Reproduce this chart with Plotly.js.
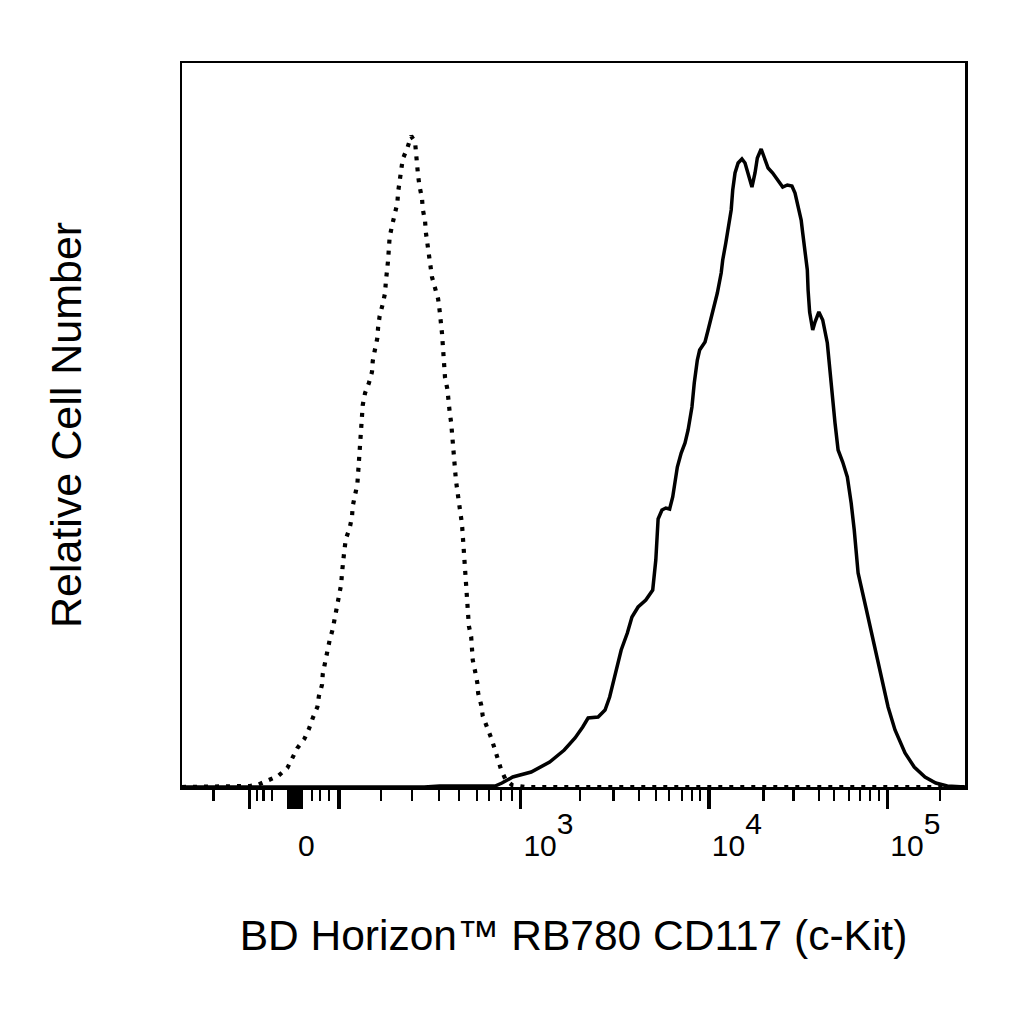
<!DOCTYPE html>
<html>
<head>
<meta charset="utf-8">
<script src="https://cdn.plot.ly/plotly-3.0.1.min.js"></script>
<style>
  html, body { margin: 0; padding: 0; background: #fff; }
  #chart { width: 1024px; height: 1024px; }
</style>
</head>
<body>
<div id="chart"></div>
<script>
// Histogram overlay, display channels on a biexponential (logicle) axis.
// x = display channel (0..1018 across the plot), y = events per channel.

// Isotype / unstained control (dotted)
const isoX = [0, 62, 88, 98, 111, 125, 137, 150, 159, 165, 170, 176, 178, 182, 183, 186, 189, 192,
  196, 199, 202, 204, 207, 208, 209, 211, 213, 218, 221, 222, 225, 228, 229, 230, 231, 233, 233,
  234, 235, 238, 243, 247, 248, 251, 254, 255, 257, 261, 264, 265, 267, 268, 269, 270, 273, 276,
  280, 281, 283, 285, 287, 293, 298, 303, 304, 306, 307, 309, 312, 313, 316, 317, 319, 320, 322,
  325, 329, 333, 335, 337, 338, 339, 340, 341, 342, 345, 346, 348, 350, 351, 352, 354, 355, 356,
  358, 360, 363, 364, 365, 366, 367, 368, 369, 371, 371, 372, 373, 376, 377, 378, 381, 384, 385,
  389, 391, 397, 402, 407, 415, 421, 429, 446, 1018];
const isoY = [0, 0, 1, 2, 6, 11, 19, 39, 48, 58, 69, 80, 91, 102, 113, 125, 135, 147,
  158, 170, 180, 192, 203, 214, 225, 236, 248, 259, 270, 281, 292, 303, 314, 325, 337, 349, 360,
  370, 382, 394, 404, 415, 426, 438, 449, 460, 471, 483, 494, 505, 516, 527, 539, 550, 561, 573,
  584, 595, 606, 617, 628, 639, 651, 645, 634, 623, 611, 600, 589, 578, 566, 555, 544, 532, 521,
  510, 499, 488, 476, 465, 454, 443, 431, 420, 409, 398, 387, 375, 364, 352, 341, 330, 319, 308,
  296, 285, 274, 263, 252, 240, 230, 218, 206, 195, 184, 173, 161, 150, 139, 127, 116, 104, 94,
  82, 71, 60, 49, 37, 17, 7, 2, 0, 0];

// CD117 stained sample (solid)
const stainX = [0, 315, 335, 387, 407, 416, 430, 454, 478, 497, 511, 521, 528, 541, 550, 556, 564,
  571, 579, 585, 593, 603, 612, 616, 619, 624, 629, 634, 638, 644, 649, 654, 658, 663, 666, 670,
  673, 680, 684, 690, 696, 701, 703, 707, 710, 714, 716, 719, 723, 728, 732, 736, 741, 745, 748,
  753, 757, 762, 768, 775, 781, 787, 793, 797, 800, 805, 807, 810, 813, 814, 816, 820, 823, 828,
  833, 839, 842, 846, 849, 853, 859, 865, 870, 874, 879, 889, 901, 909, 918, 927, 940, 952, 966,
  980, 995, 1018];
const stainY = [0, 0, 1, 1, 1, 4, 10, 15, 25, 37, 49, 60, 69, 70, 77, 90, 114,
  137, 154, 170, 180, 187, 197, 227, 268, 277, 279, 278, 290, 320, 334, 344, 357, 380, 404, 427,
  437, 445, 457, 474, 494, 514, 527, 544, 560, 577, 597, 614, 624, 628, 624, 612, 600, 614, 629,
  638, 630, 619, 614, 607, 600, 602, 601, 594, 584, 567, 554, 537, 517, 497, 475, 457, 465, 475,
  467, 444, 417, 390, 364, 337, 325, 310, 284, 257, 214, 180, 140, 110, 80, 57, 34, 20, 10,
  4, 1, 0];

// Axis ticks (display channels). Major: -100, 0 cluster, 100, 10^3, 10^4, 10^5
const majorTickCh = [88, 139, 143, 147, 151, 155, 204, 440, 685, 917];
// exponent drawn full size and raised well above the base, as in the original
const SUP = (e) => `10<sup><sup><span style="font-size:30px">${e}</span></sup></sup>`;
const majorTickText = ["", "", "", "0", "", "", "", SUP(3), SUP(4), SUP(5)];
// Minor: -200, -90..-10, 10..90, 200..900, 2000..9000, 2e4..9e4, 2e5
const minorTickCh = [41, 98, 106, 117, 169, 179, 191,
  259, 299, 334, 360, 384, 399, 415, 429,
  517, 561, 594, 616, 633, 650, 663, 673,
  756, 795, 828, 848, 867, 881, 894, 906,
  985];

const FONT = "Arial, 'Liberation Sans', sans-serif";

const traces = [
  {
    type: "scatter", mode: "lines", name: "control",
    x: isoX, y: isoY,
    line: { color: "#000", width: 4.2, dash: "4px,7px" },
    hoverinfo: "skip",
  },
  {
    type: "scatter", mode: "lines", name: "CD117",
    x: stainX, y: stainY,
    line: { color: "#000", width: 3.5 },
    hoverinfo: "skip",
  },
];

const layout = {
  width: 1024, height: 1024,
  paper_bgcolor: "#fff", plot_bgcolor: "#fff",
  margin: { l: 182, r: 59, t: 63, b: 237 },
  showlegend: false,
  font: { family: FONT, color: "#000" },
  xaxis: {
    range: [0, 1018], fixedrange: true,
    showgrid: false, zeroline: false,
    showline: true, linecolor: "#000", linewidth: 2.5, mirror: true,
    ticks: "outside", ticklen: 19, tickwidth: 3.5, tickcolor: "#000",
    tickmode: "array", tickvals: majorTickCh, ticktext: majorTickText,
    ticklabelposition: "outside right", ticklabelstandoff: 30,
    tickfont: { family: FONT, size: 30, color: "#000" },
    minor: {
      tickmode: "array", tickvals: minorTickCh,
      ticks: "outside", ticklen: 11, tickwidth: 2.2, tickcolor: "#000", showgrid: false,
    },
    title: { text: "BD Horizon™ RB780 CD117 (c-Kit)", font: { family: FONT, size: 42.5, color: "#000" }, standoff: 60 },
  },
  yaxis: {
    range: [0, 724], fixedrange: true,
    showgrid: false, zeroline: false,
    showline: true, linecolor: "#000", linewidth: 2.5, mirror: true,
    ticks: "", showticklabels: false,
    title: { text: "Relative Cell Number", font: { family: FONT, size: 43, color: "#000" }, standoff: 85 },
  },
};

Plotly.newPlot("chart", traces, layout, { displayModeBar: false, staticPlot: true });
</script>
</body>
</html>
